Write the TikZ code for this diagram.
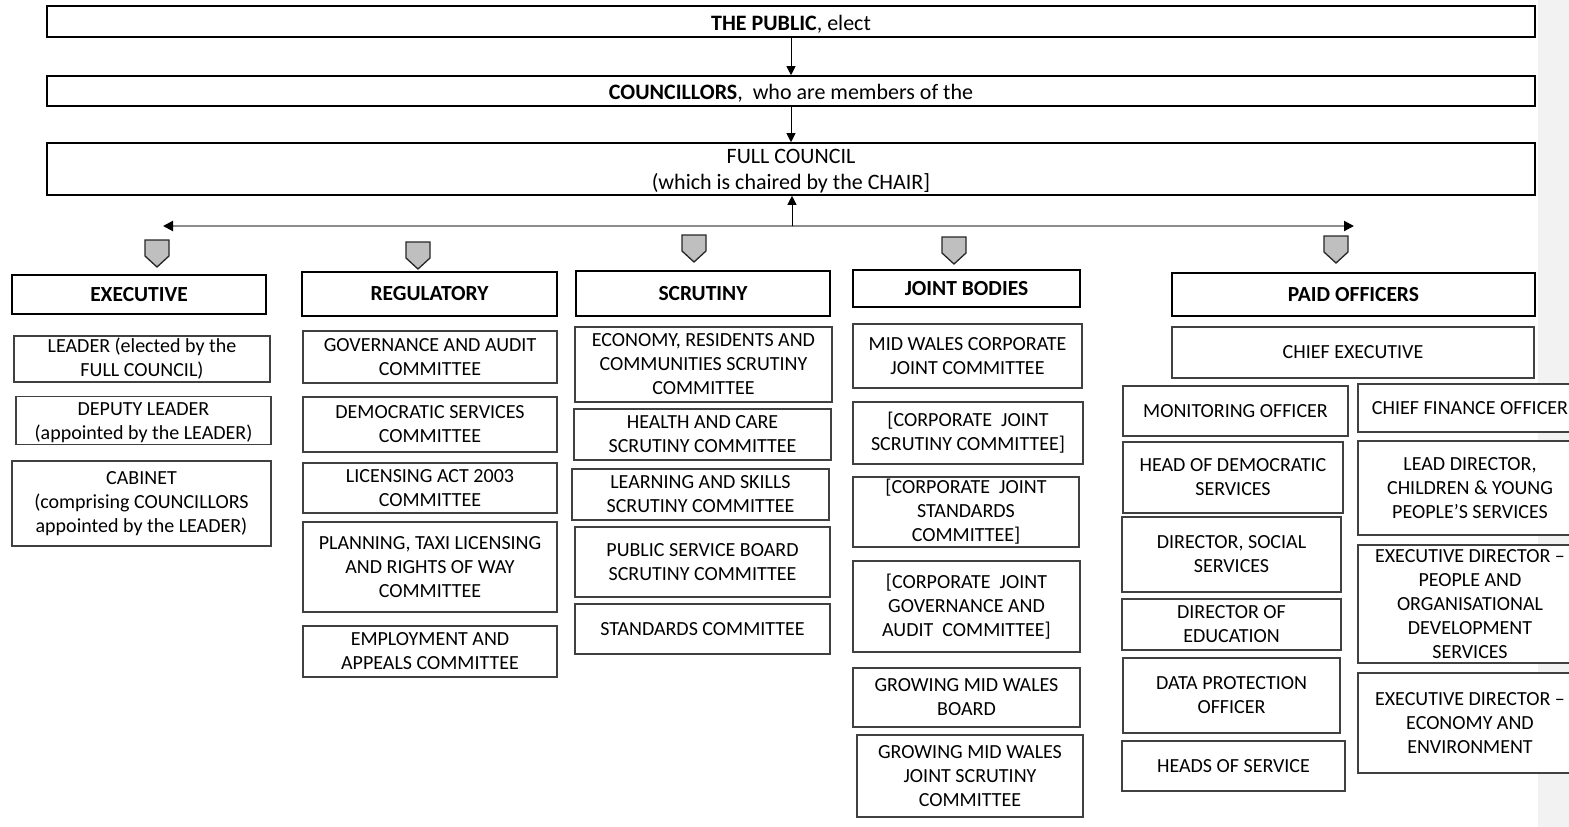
\documentclass[tikz,border=0pt]{standalone}
\usepackage{fontspec}
\setmainfont{Carlito}
\usetikzlibrary{arrows.meta}
\definecolor{strip}{HTML}{F2F2F2}
\definecolor{pentfill}{HTML}{BFBFBF}
\definecolor{subline}{HTML}{404040}
\definecolor{hline}{HTML}{8C8C8C}
\tikzset{
  topbox/.style={draw=black,line width=1.6pt,fill=white,inner sep=0pt,align=center,font=\fontsize{22}{26}\selectfont},
  headbox/.style={draw=black,line width=1.6pt,fill=white,inner sep=0pt,align=center,font=\fontsize{21.5}{24}\selectfont\bfseries},
  subbox/.style={draw=subline,line width=1.1pt,fill=white,inner sep=0pt,align=center,font=\fontsize{20}{24}\selectfont},
  pentst/.style={draw=black!85,line width=1.3pt,fill=pentfill,line join=miter},
  arr/.style={draw=black,line width=1pt,-{Triangle[length=9pt,width=9pt]}},
  harr/.style={draw=hline,line width=2pt,{Triangle[length=10pt,width=10pt,color=black]}-{Triangle[length=10pt,width=10pt,color=black]}},
}
\newcommand\bx[7]{\node[#6,minimum width={(#4)-(#2)},minimum height={(#5)-(#3)}] (#1) at ({((#2)+(#4))/2},{((#3)+(#5))/2}) {#7};}
\newcommand\lowr[2]{\raisebox{-#1pt}[\height][\depth]{\begin{tabular}{@{}c@{}}#2\end{tabular}}}
\newcommand\pent[2]{\draw[pentst] (#1-12,#2) -- (#1+12,#2) -- (#1+12,#2+16) -- (#1,#2+27) -- (#1-12,#2+16) -- cycle;}
\begin{document}
\begin{tikzpicture}[x=1pt,y=-1pt]
\useasboundingbox (0,0) rectangle (1569,827);
\clip (0,0) rectangle (1569,827);
\fill[white] (0,0) rectangle (1569,827);
\fill[strip] (1538,0) rectangle (1569,827);
% top
\bx{pub}{47}{6}{1535}{37}{topbox}{\lowr{3.5}{\textbf{THE PUBLIC}, elect}}
\bx{coun}{47}{76}{1535}{106}{topbox}{\lowr{3}{\textbf{COUNCILLORS},\ \ who are members of the}}
\bx{fc}{47}{143}{1535}{195}{topbox}{\lowr{2.5}{FULL COUNCIL\\(which is chaired by the CHAIR]}}
\draw[arr] (pub.south) -- (coun.north);
\draw[arr] (coun.south) -- (fc.north);
\coordinate (hl) at (163,226);
\coordinate (hr) at (1354,226);
\coordinate (hub) at (792,226);
\draw[harr] (hl) -- (hr);
\draw[arr] (hub) -- (hub |- fc.south);
% pentagons
\pent{157}{240}
\pent{418}{242}
\pent{694}{235}
\pent{954}{237}
\pent{1336}{236}
% headers
\bx{hexe}{12}{275}{266}{314}{headbox}{EXECUTIVE}
\bx{hreg}{302}{272}{557}{316}{headbox}{REGULATORY}
\bx{hscr}{576}{271}{830}{316}{headbox}{SCRUTINY}
\bx{hjnt}{853}{270}{1080}{307}{headbox}{JOINT BODIES}
\bx{hpaid}{1172}{273}{1535}{316}{headbox}{PAID OFFICERS}
% executive
\bx{e1}{14}{336}{270}{382}{subbox}{LEADER (elected by the\\FULL COUNCIL)}
\bx{e2}{16}{398}{271}{443}{subbox}{\lowr{2.5}{DEPUTY LEADER\\(appointed by the LEADER)}}
\bx{e3}{12}{461}{271}{546}{subbox}{CABINET\\(comprising COUNCILLORS\\appointed by the LEADER)}
% regulatory
\bx{r1}{303}{331}{557}{383}{subbox}{GOVERNANCE AND AUDIT\\COMMITTEE}
\bx{r2}{303}{397}{557}{452}{subbox}{DEMOCRATIC SERVICES\\COMMITTEE}
\bx{r3}{303}{463}{557}{513}{subbox}{LICENSING ACT 2003\\COMMITTEE}
\bx{r4}{303}{522}{557}{612}{subbox}{PLANNING, TAXI LICENSING\\AND RIGHTS OF WAY\\COMMITTEE}
\bx{r5}{303}{626}{557}{677}{subbox}{EMPLOYMENT AND\\APPEALS COMMITTEE}
% scrutiny
\bx{s1}{575}{327}{832}{402}{subbox}{ECONOMY, RESIDENTS AND\\COMMUNITIES SCRUTINY\\COMMITTEE}
\bx{s2}{574}{409}{831}{460}{subbox}{HEALTH AND CARE\\SCRUTINY COMMITTEE}
\bx{s3}{572}{469}{829}{520}{subbox}{LEARNING AND SKILLS\\SCRUTINY COMMITTEE}
\bx{s4}{575}{527}{830}{597}{subbox}{PUBLIC SERVICE BOARD\\SCRUTINY COMMITTEE}
\bx{s5}{575}{604}{830}{654}{subbox}{STANDARDS COMMITTEE}
% joint bodies
\bx{j1}{853}{324}{1082}{388}{subbox}{MID WALES CORPORATE\\JOINT COMMITTEE}
\bx{j2}{853}{402}{1083}{464}{subbox}{[CORPORATE\ \ JOINT\\SCRUTINY COMMITTEE]}
\bx{j3}{853}{477}{1079}{547}{subbox}{[CORPORATE\ \ JOINT\\STANDARDS\\COMMITTEE]}
\bx{j4}{853}{561}{1080}{652}{subbox}{[CORPORATE\ \ JOINT\\GOVERNANCE AND\\AUDIT\ \ COMMITTEE]}
\bx{j5}{853}{668}{1080}{727}{subbox}{GROWING MID WALES\\BOARD}
\bx{j6}{857}{735}{1083}{817}{subbox}{GROWING MID WALES\\JOINT SCRUTINY\\COMMITTEE}
% paid officers
\bx{p0}{1172}{327}{1534}{378}{subbox}{CHIEF EXECUTIVE}
\bx{p1}{1123}{386}{1348}{436}{subbox}{MONITORING OFFICER}
\bx{p2}{1123}{442}{1343}{513}{subbox}{HEAD OF DEMOCRATIC\\SERVICES}
\bx{p3}{1122}{517}{1341}{592}{subbox}{DIRECTOR, SOCIAL\\SERVICES}
\bx{p4}{1122}{599}{1341}{650}{subbox}{DIRECTOR OF\\EDUCATION}
\bx{p5}{1123}{658}{1340}{733}{subbox}{DATA PROTECTION\\OFFICER}
\bx{p6}{1122}{741}{1345}{791}{subbox}{HEADS OF SERVICE}
\bx{q1}{1358}{384}{1582}{432}{subbox}{CHIEF FINANCE OFFICER}
\bx{q2}{1358}{441}{1582}{535}{subbox}{LEAD DIRECTOR,\\CHILDREN \& YOUNG\\PEOPLE’S SERVICES}
\bx{q3}{1358}{545}{1582}{663}{subbox}{EXECUTIVE DIRECTOR –\\PEOPLE AND\\ORGANISATIONAL\\DEVELOPMENT\\SERVICES}
\bx{q4}{1358}{673}{1582}{773}{subbox}{EXECUTIVE DIRECTOR –\\ECONOMY AND\\ENVIRONMENT}
\end{tikzpicture}
\end{document}
